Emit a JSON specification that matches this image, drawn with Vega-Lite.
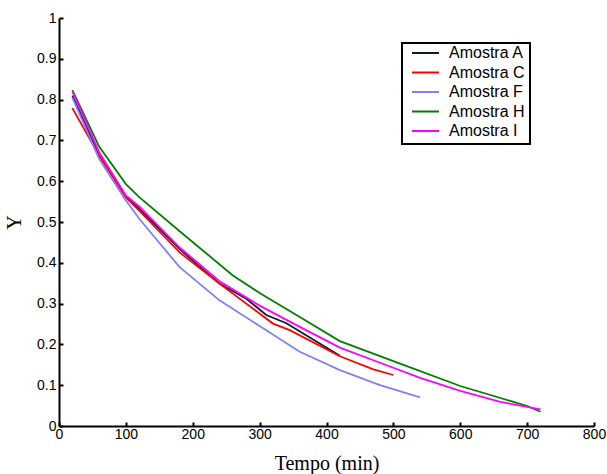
{
  "$schema": "https://vega.github.io/schema/vega-lite/v6.json",
  "width": 535,
  "height": 408,
  "autosize": "none",
  "padding": {"left": 59, "top": 18, "right": 13, "bottom": 48},
  "background": "white",
  "config": {
    "view": {"stroke": null},
    "axis": {
      "domainColor": "black",
      "domainWidth": 2,
      "tickColor": "black",
      "tickWidth": 2,
      "tickSize": -4,
      "grid": false,
      "labelFont": "Liberation Sans",
      "labelFontSize": 14,
      "labelColor": "black",
      "titleFont": "Liberation Serif",
      "titleFontWeight": "normal",
      "titleFontSize": 20,
      "titleColor": "black"
    }
  },
  "data": {
    "values": [
      {"t": 20, "y": 0.81, "s": "Amostra A"},
      {"t": 60, "y": 0.663, "s": "Amostra A"},
      {"t": 100, "y": 0.562, "s": "Amostra A"},
      {"t": 120, "y": 0.532, "s": "Amostra A"},
      {"t": 180, "y": 0.434, "s": "Amostra A"},
      {"t": 240, "y": 0.349, "s": "Amostra A"},
      {"t": 280, "y": 0.312, "s": "Amostra A"},
      {"t": 310, "y": 0.272, "s": "Amostra A"},
      {"t": 340, "y": 0.252, "s": "Amostra A"},
      {"t": 420, "y": 0.172, "s": "Amostra A"},

      {"t": 20, "y": 0.779, "s": "Amostra C"},
      {"t": 60, "y": 0.663, "s": "Amostra C"},
      {"t": 100, "y": 0.56, "s": "Amostra C"},
      {"t": 120, "y": 0.528, "s": "Amostra C"},
      {"t": 180, "y": 0.426, "s": "Amostra C"},
      {"t": 240, "y": 0.349, "s": "Amostra C"},
      {"t": 320, "y": 0.251, "s": "Amostra C"},
      {"t": 345, "y": 0.235, "s": "Amostra C"},
      {"t": 420, "y": 0.171, "s": "Amostra C"},
      {"t": 470, "y": 0.139, "s": "Amostra C"},
      {"t": 500, "y": 0.125, "s": "Amostra C"},

      {"t": 20, "y": 0.805, "s": "Amostra F"},
      {"t": 60, "y": 0.655, "s": "Amostra F"},
      {"t": 100, "y": 0.553, "s": "Amostra F"},
      {"t": 120, "y": 0.508, "s": "Amostra F"},
      {"t": 180, "y": 0.39, "s": "Amostra F"},
      {"t": 240, "y": 0.308, "s": "Amostra F"},
      {"t": 300, "y": 0.245, "s": "Amostra F"},
      {"t": 360, "y": 0.182, "s": "Amostra F"},
      {"t": 420, "y": 0.137, "s": "Amostra F"},
      {"t": 480, "y": 0.1, "s": "Amostra F"},
      {"t": 540, "y": 0.07, "s": "Amostra F"},

      {"t": 20, "y": 0.823, "s": "Amostra H"},
      {"t": 60, "y": 0.685, "s": "Amostra H"},
      {"t": 100, "y": 0.593, "s": "Amostra H"},
      {"t": 120, "y": 0.561, "s": "Amostra H"},
      {"t": 180, "y": 0.478, "s": "Amostra H"},
      {"t": 260, "y": 0.369, "s": "Amostra H"},
      {"t": 300, "y": 0.326, "s": "Amostra H"},
      {"t": 360, "y": 0.267, "s": "Amostra H"},
      {"t": 420, "y": 0.208, "s": "Amostra H"},
      {"t": 510, "y": 0.153, "s": "Amostra H"},
      {"t": 600, "y": 0.098, "s": "Amostra H"},
      {"t": 700, "y": 0.049, "s": "Amostra H"},
      {"t": 720, "y": 0.035, "s": "Amostra H"},

      {"t": 20, "y": 0.82, "s": "Amostra I"},
      {"t": 60, "y": 0.671, "s": "Amostra I"},
      {"t": 100, "y": 0.565, "s": "Amostra I"},
      {"t": 120, "y": 0.538, "s": "Amostra I"},
      {"t": 180, "y": 0.438, "s": "Amostra I"},
      {"t": 240, "y": 0.355, "s": "Amostra I"},
      {"t": 300, "y": 0.295, "s": "Amostra I"},
      {"t": 360, "y": 0.243, "s": "Amostra I"},
      {"t": 420, "y": 0.192, "s": "Amostra I"},
      {"t": 480, "y": 0.155, "s": "Amostra I"},
      {"t": 540, "y": 0.118, "s": "Amostra I"},
      {"t": 600, "y": 0.086, "s": "Amostra I"},
      {"t": 660, "y": 0.059, "s": "Amostra I"},
      {"t": 720, "y": 0.041, "s": "Amostra I"}
    ]
  },
  "mark": {"type": "line", "strokeWidth": 1.8, "clip": true},
  "encoding": {
    "x": {
      "field": "t",
      "type": "quantitative",
      "scale": {"domain": [0, 800], "nice": false},
      "axis": {"title": "Tempo (min)", "values": [0,100,200,300,400,500,600,700,800], "labelPadding": 5, "titlePadding": 12, "labelFlush": false}
    },
    "y": {
      "field": "y",
      "type": "quantitative",
      "scale": {"domain": [0, 1], "nice": false},
      "axis": {"title": "Y", "values": [0,0.1,0.2,0.3,0.4,0.5,0.6,0.7,0.8,0.9,1], "format": "~g", "labelPadding": 7, "titlePadding": 12, "titleAngle": -90}
    },
    "color": {
      "field": "s",
      "type": "nominal",
      "scale": {
        "domain": ["Amostra A", "Amostra C", "Amostra F", "Amostra H", "Amostra I"],
        "range": ["#0b1a2e", "#ff0000", "#8080ff", "#008000", "#ff00ff"]
      },
      "legend": {
        "title": null,
        "orient": "none",
        "legendX": 343,
        "legendY": 25,
        "fillColor": "white",
        "strokeColor": "black",
        "padding": 5,
        "symbolType": "stroke",
        "symbolSize": 729,
        "symbolStrokeWidth": 2,
        "symbolOffset": 4,
        "clipHeight": 10,
        "rowPadding": 3.5,
        "labelFont": "Liberation Sans",
        "labelFontSize": 16,
        "labelColor": "black",
        "labelOffset": 9,
        "encode": {"legend": {"update": {"strokeWidth": {"value": 2}}}}
      }
    }
  }
}
